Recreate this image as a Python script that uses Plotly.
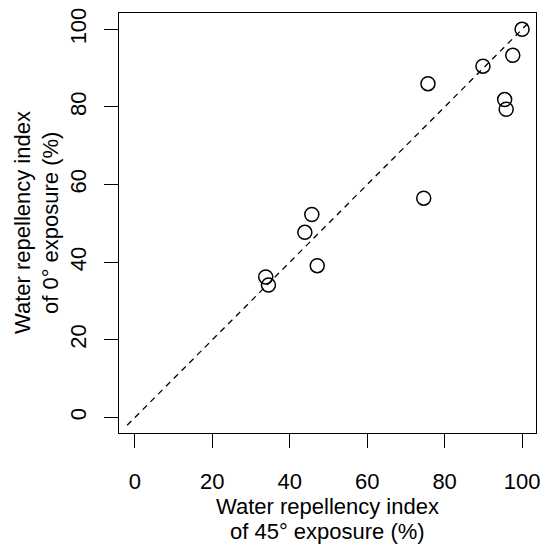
import plotly.graph_objects as go

# Data
x45 = [100.0, 89.9, 97.6, 75.7, 95.5, 95.9, 74.6, 45.7, 43.9, 47.1, 33.8, 34.5]
y0 = [100.0, 90.5, 93.3, 86.0, 81.9, 79.4, 56.5, 52.3, 47.7, 39.1, 36.2, 34.1]
line_x = [-2, 102]
line_y = [-2, 102]
tick_vals = [0, 20, 40, 60, 80, 100]
tick_text = ["0", "20", "40", "60", "80", "100"]
xlabel_lines = ["Water repellency index", "of 45° exposure (%)"]
ylabel_lines = ["Water repellency index", "of 0° exposure (%)"]

FONT = "Liberation Sans, Arial, sans-serif"
FS = 22

fig = go.Figure()
fig.add_trace(go.Scatter(x=line_x, y=line_y, mode="lines",
                         line=dict(color="black", width=1.3, dash="6px,5px"),
                         hoverinfo="skip", showlegend=False))
fig.add_trace(go.Scatter(x=x45, y=y0, mode="markers",
                         marker=dict(symbol="circle-open", size=14, color="black",
                                     line=dict(width=1.5, color="black")),
                         showlegend=False))

axis_common = dict(showgrid=False, zeroline=False, showline=True, mirror=True,
                   linecolor="black", linewidth=1.3, ticks="outside", ticklen=14,
                   tickwidth=1.3, tickcolor="black", tickvals=tick_vals, ticktext=tick_text,
                   tickfont=dict(family=FONT, size=FS, color="black"))

annotations = []
for txt, sh in zip(xlabel_lines, [-73, -98]):
    annotations.append(dict(text=txt, xref="paper", yref="paper", x=0.5, y=0,
                            xanchor="center", yanchor="middle", yshift=sh, showarrow=False,
                            font=dict(family=FONT, size=FS, color="black")))
for txt, sh in zip(ylabel_lines, [-97, -69]):
    annotations.append(dict(text=txt, xref="paper", yref="paper", x=0, y=0.5,
                            xanchor="center", yanchor="middle", xshift=sh, textangle=-90,
                            showarrow=False, font=dict(family=FONT, size=FS, color="black")))

fig.update_layout(
    width=547, height=546,
    margin=dict(l=119, r=7, t=13, b=113),
    plot_bgcolor="white", paper_bgcolor="white",
    xaxis=dict(range=[-4.1, 103.6], ticklabelstandoff=14, **axis_common),
    yaxis=dict(range=[-4.0, 104.2], tickangle=-90, ticklabelstandoff=9, **axis_common),
    annotations=annotations,
)

fig.write_html("out.html")
